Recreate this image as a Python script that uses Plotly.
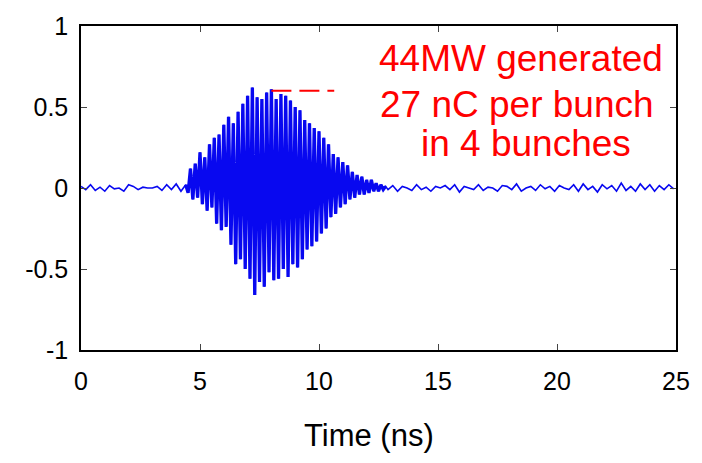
import plotly.graph_objects as go

# Sampled waveform, split into the quiet lead-in, the RF burst and the quiet tail
pre_t0, pre_dt = 0.0, 0.2
pre_vals = [0.01, -0.01, 0.02, -0.015, 0.005, -0.02, 0.015, -0.005, 0.0, -0.02, 0.02,
            0.01, -0.01, 0.005, 0.0, 0.0, 0.01, -0.015, 0.02, -0.01, 0.025, -0.02]

burst_t0, burst_dt = 4.4, 0.1
burst_vals = [0.02, -0.03, 0.12, -0.07, 0.15, -0.06, 0.22, -0.10, 0.19, -0.14,
              0.27, -0.12, 0.31, -0.22, 0.33, -0.26, 0.39, -0.24, 0.44, -0.35,
              0.40, -0.47, 0.47, -0.44, 0.52, -0.50, 0.57, -0.56, 0.62, -0.66,
              0.56, -0.58, 0.55, -0.61, 0.59, -0.52, 0.61, -0.57, 0.55, -0.56,
              0.58, -0.50, 0.57, -0.55, 0.54, -0.47, 0.50, -0.49, 0.48, -0.44,
              0.42, -0.38, 0.40, -0.36, 0.37, -0.33, 0.35, -0.28, 0.31, -0.25,
              0.27, -0.18, 0.21, -0.16, 0.19, -0.12, 0.16, -0.10, 0.14, -0.07,
              0.10, -0.06, 0.08, -0.04, 0.07, -0.04, 0.05, -0.03, 0.05, -0.02,
              0.03, -0.02, 0.02, -0.01, 0.01]

post_t0, post_dt = 12.9, 0.2
post_vals = [-0.01, 0.015, -0.02, 0.01, 0.0, -0.015, 0.02, -0.01, 0.005, -0.02,
             0.01, 0.0, 0.015, -0.01, 0.02, -0.025, 0.01, 0.0, -0.01, 0.02,
             -0.015, 0.005, 0.0, -0.02, 0.015, 0.01, -0.01, 0.025, -0.02, 0.0,
             0.01, -0.015, 0.02, -0.005, 0.01, -0.02, 0.015, 0.0, -0.01, 0.02,
             -0.02, 0.025, -0.01, 0.01, -0.025, 0.02, -0.005, 0.015, -0.02, 0.03,
             -0.015, 0.01, -0.02, 0.025, -0.01, 0.02, -0.02, 0.015, -0.01, 0.02,
             -0.005]

x_ticks = [0, 5, 10, 15, 20, 25]
y_ticks = [-1, -0.5, 0, 0.5, 1]
y_tick_text = ["-1", "-0.5", "0", "0.5", "1"]

power_marker_x = [8.0, 10.64]
power_marker_y = 0.6

note_lines = ["44MW generated", "27 nC per bunch", "in 4 bunches"]

W, H = 702, 463
ML, MR, MT, MB = 81, 24, 20, 113
TRACE_BLUE = "#0808f0"


def times(t0, dt, vals):
    return [t0 + i * dt for i in range(len(vals))]


def page_to_paper(px, py):
    # convert page pixels into plot-area fractions
    return (px - ML) / (W - ML - MR), (H - MB - py) / (H - MT - MB)


burst_t = times(burst_t0, burst_dt, burst_vals)
t_all = times(pre_t0, pre_dt, pre_vals) + burst_t + times(post_t0, post_dt, post_vals)
v_all = pre_vals + burst_vals + post_vals

fig = go.Figure()
# full record as a thin trace
fig.add_trace(go.Scatter(x=t_all, y=v_all, mode="lines",
                         line=dict(color=TRACE_BLUE, width=1.6), hoverinfo="skip"))
# the burst drawn heavier so the dense oscillation reads as a filled envelope
fig.add_trace(go.Scatter(x=burst_t, y=burst_vals, mode="lines",
                         line=dict(color=TRACE_BLUE, width=3.3), hoverinfo="skip"))

tick_font = dict(family="Liberation Sans Narrow, Liberation Sans, Arial, sans-serif",
                 size=25, color="black")

fig.update_xaxes(range=[0, 25], tickvals=x_ticks, ticks="inside", ticklen=6,
                 showline=True, linecolor="black", linewidth=1.5, mirror="ticks",
                 showgrid=False, zeroline=False, tickfont=tick_font,
                 ticklabelstandoff=8)
fig.update_yaxes(range=[-1, 1], tickvals=y_ticks, ticktext=y_tick_text,
                 ticks="inside", ticklen=6,
                 showline=True, linecolor="black", linewidth=1.5, mirror="ticks",
                 showgrid=False, zeroline=False, tickfont=tick_font,
                 ticklabelstandoff=6)

fig.add_shape(type="line", x0=power_marker_x[0], x1=power_marker_x[1],
              y0=power_marker_y, y1=power_marker_y, xref="x", yref="y",
              line=dict(color="red", width=2, dash="20px,8px"))

note_font = dict(family="Liberation Sans, Arial, sans-serif", size=37, color="red")
note_pos = [(522, 53), (518, 100), (527, 140)]
for text, (px, py) in zip(note_lines, note_pos):
    ax, ay = page_to_paper(px, py)
    fig.add_annotation(text=text, x=ax, y=ay, xref="paper", yref="paper",
                       xanchor="center", yanchor="middle", showarrow=False,
                       font=note_font)

# Axis title placed in page coordinates below the plot
tx, ty = page_to_paper(370, 437)
fig.add_annotation(text="Time (ns)", x=tx, y=ty, xref="paper", yref="paper",
                   xanchor="center", yanchor="middle", showarrow=False,
                   font=dict(family="Liberation Sans, Arial, sans-serif", size=31, color="black"))

fig.update_layout(width=W, height=H, margin=dict(l=ML, r=MR, t=MT, b=MB),
                  paper_bgcolor="white", plot_bgcolor="white", showlegend=False)

fig.write_html("out.html")
